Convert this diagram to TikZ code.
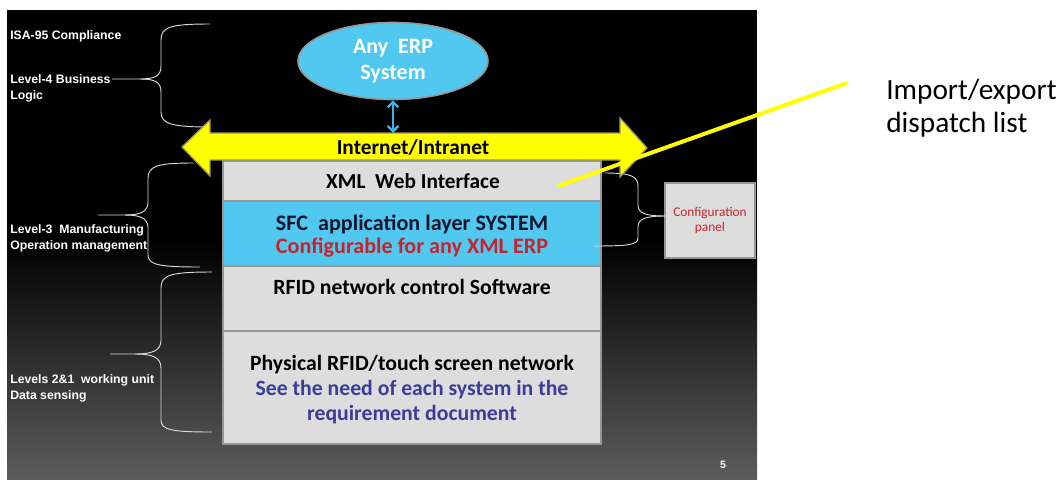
\documentclass[tikz,border=0pt]{standalone}
\usepackage{fontspec}
\setmainfont{Carlito}
\newfontfamily\arialf{Liberation Sans}
\usetikzlibrary{arrows.meta,shapes.geometric}
\definecolor{sky}{RGB}{80,200,240}
\definecolor{boxgray}{RGB}{221,221,221}
\definecolor{edgegray}{RGB}{150,150,150}
\definecolor{redtxt}{RGB}{200,35,45}
\definecolor{bluetxt}{RGB}{60,60,155}
\definecolor{navytxt}{RGB}{20,20,45}
\definecolor{slidegray}{RGB}{92,92,92}
\definecolor{arrowyellow}{RGB}{255,255,0}
\definecolor{arrowedge}{RGB}{150,150,110}
\definecolor{linkblue}{RGB}{60,180,230}
\begin{document}
\begin{tikzpicture}[x=0.75pt,y=-0.75pt,
  layerbox/.style={draw=edgegray, line width=1.5pt, fill=boxgray, anchor=north west, minimum width=283.5pt, inner sep=0pt},
  boxtext/.style={font=\bfseries\fontsize{16.3}{18.75}\selectfont, align=center, inner sep=0pt},
  sidelabel/.style={font=\arialf\bfseries\fontsize{9.2}{12}\selectfont, text=white, align=left, anchor=west, inner sep=0pt},
  bracepath/.style={draw=white!85!black, line width=0.7pt}
]
\useasboundingbox (0,0) rectangle (1060,479);
\fill[white] (0,0) rectangle (1060,479);
\fill[black] (7,10) rectangle (757,479);
\shade[top color=black, bottom color=slidegray] (7,240) rectangle (757,479);

% stacked layers
\node[layerbox, minimum height=30pt] (xmlbox) at (222,160) {};
\node[layerbox, minimum height=48.75pt, fill=sky] (sfcbox) at (222,200) {};
\node[layerbox, minimum height=48.75pt] (rfidbox) at (222,265) {};
\node[layerbox, minimum height=84.75pt] (physbox) at (222,330) {};

\node[boxtext, font=\bfseries\fontsize{16}{18.75}\selectfont] (xmltext) at (413,181) {XML~~Web Interface};
\node[boxtext, font=\bfseries\fontsize{16.6}{17.25}\selectfont] (sfctext) at (412,236) {\textcolor{navytxt}{SFC~~application layer SYSTEM}\\\textcolor{redtxt}{Configurable for any XML ERP}};
\node[boxtext] (rfidtext) at (412,287) {RFID network control Software};
\node[boxtext] (phystext) at (412,390) {Physical RFID/touch screen network\\\textcolor{bluetxt}{See the need of each system in the}\\\textcolor{bluetxt}{requirement document}};

% configuration panel
\node[draw=edgegray, line width=1.2pt, fill=boxgray, minimum width=67.5pt, minimum height=56.25pt, inner sep=0pt,
      font=\fontsize{10}{11.5}\selectfont, text=redtxt, align=center] (config) at (710,220.5) {Configuration\\panel};

% braces
\draw[bracepath] (210,24) .. controls (170,24) and (161,27) .. (161,40) -- (161,66) .. controls (161,76) and (155,79) .. (140,79) -- (112,79);
\draw[bracepath] (140,79) .. controls (155,79) and (161,82) .. (161,92) -- (161,112) .. controls (161,124) and (172,127) .. (210,127);
\draw[bracepath] (193,163) .. controls (158,163) and (148,166) .. (148,178) -- (148,202) .. controls (148,212) and (140,215) .. (125,215) -- (98,215);
\draw[bracepath] (125,215) .. controls (140,215) and (148,218) .. (148,228) -- (148,255) .. controls (148,265) and (160,267) .. (200,267);
\draw[bracepath] (212,272) .. controls (170,272) and (161,275) .. (161,288) -- (161,340) .. controls (161,351) and (152,354) .. (135,354) -- (110,354);
\draw[bracepath] (135,354) .. controls (152,354) and (161,357) .. (161,368) -- (161,420) .. controls (161,430) and (172,432) .. (212,432);
\draw[bracepath] (605,173) .. controls (630,173) and (638,176) .. (638,186) -- (638,205) .. controls (638,213) and (645,216) .. (665,216);
\draw[bracepath] (665,216) .. controls (645,216) and (638,219) .. (638,227) -- (638,238) .. controls (638,245) and (628,246) .. (593,246);

% side labels
\node[sidelabel] (isa) at (10,36) {ISA-95 Compliance};
\node[sidelabel] (lvl4) at (10,88.5) {Level-4 Business\\Logic};
\node[sidelabel] (lvl3) at (10,238) {Level-3~~Manufacturing\\Operation management};
\node[sidelabel] (lvl21) at (10,388) {Levels 2\&1~~working unit\\Data sensing};

% Internet/Intranet double arrow
\draw[fill=arrowyellow, draw=arrowedge, line width=1pt, line join=miter]
  (182,147) -- (210,120) -- (210,133) -- (620,133) -- (620,118) -- (647,148) -- (620,177) -- (620,160) -- (210,160) -- (210,176) -- cycle;
\node[boxtext, font=\bfseries\fontsize{16}{18}\selectfont] (net) at (413,147) {Internet/Intranet};
\coordinate (nettop) at (393,133);

% ERP ellipse
\node[ellipse, fill=sky, draw=edgegray, line width=1.2pt, minimum width=142.5pt, minimum height=57.75pt, inner sep=0pt,
      text=white, font=\bfseries\fontsize{16.5}{20}\selectfont, align=center] (erp) at (393,61) {Any~~ERP\\System};
\draw[linkblue, line width=1.8pt, {Straight Barb[length=4pt,width=8pt]}-{Straight Barb[length=4pt,width=8pt]}] (erp.south) -- (nettop);

% yellow pointer line
\coordinate (ys) at (558,186);
\coordinate (ye) at (847,83);
\draw[arrowyellow, line width=3pt] (ys) -- (ye);

\node[font=\fontsize{22}{24.75}\selectfont, align=left, anchor=west, inner sep=0pt] (imp) at (886,108.5) {Import/export\\dispatch list};

\node[font=\arialf\bfseries\fontsize{8}{9}\selectfont, text=white, inner sep=0pt] (pgno) at (723,465) {5};
\end{tikzpicture}
\end{document}
